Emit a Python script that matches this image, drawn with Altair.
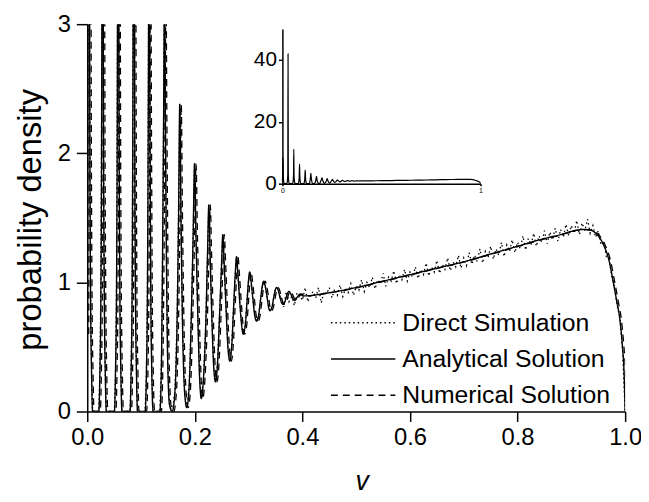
import altair as alt
import pandas as pd

# ---------------- data ----------------
series_names = ["Direct Simulation", "Analytical Solution", "Numerical Solution"]

# analytical solution: sample points (v, density)
ana_x = [
    0.0, 0.0012, 0.0028, 0.0044, 0.006, 0.008, 0.010,
    0.0215, 0.0235, 0.0255, 0.0272, 0.0285, 0.0298, 0.0315, 0.0335, 0.0355,
    0.0505, 0.0525, 0.0545, 0.0562, 0.0575, 0.0588, 0.0605, 0.0625, 0.0645,
    0.0795, 0.0815, 0.0835, 0.0852, 0.0865, 0.0878, 0.0895, 0.0915, 0.0935,
    0.1075, 0.1100, 0.1120, 0.1137, 0.1150, 0.1163, 0.1180, 0.1200, 0.1225,
    0.1350, 0.1380, 0.1400, 0.1420, 0.1436, 0.1452, 0.1472, 0.1495, 0.1530,
    0.158,
    0.163, 0.167, 0.1697, 0.172, 0.1743, 0.177, 0.181, 0.185,
    0.1895, 0.1935, 0.1968, 0.1995, 0.2022, 0.2055, 0.209, 0.212,
    0.216, 0.2205, 0.2235, 0.226, 0.2285, 0.2315, 0.235, 0.2385,
    0.242, 0.246, 0.2495, 0.252, 0.2545, 0.258, 0.2615, 0.265,
    0.2685, 0.272, 0.275, 0.2775, 0.280, 0.2835, 0.287, 0.290,
    0.2935, 0.297, 0.2995, 0.302, 0.3045, 0.308, 0.3115, 0.315,
    0.3185, 0.322, 0.325, 0.328, 0.331, 0.3345, 0.3375, 0.340,
    0.3435, 0.347, 0.3495, 0.352, 0.3545, 0.358, 0.361, 0.364,
    0.3675, 0.371, 0.375, 0.379, 0.383, 0.386,
    0.391, 0.396, 0.401,
    0.45, 0.50, 0.55, 0.60, 0.65, 0.70, 0.75, 0.80, 0.85, 0.88, 0.90, 0.92,
    0.935, 0.95, 0.96, 0.97, 0.978, 0.985, 0.99, 0.995, 0.998, 1.0,
]
ana_y = [
    0.6, 3.0, 8.5, 3.0, 1.0, 0.3, 0.0,
    0.0, 0.3, 1.0, 3.0, 42.0, 3.0, 1.0, 0.3, 0.0,
    0.0, 0.3, 1.0, 3.0, 11.2, 3.0, 1.0, 0.3, 0.0,
    0.0, 0.3, 1.0, 3.0, 6.3, 3.0, 1.0, 0.3, 0.0,
    0.0, 0.3, 1.0, 2.6, 4.4, 2.6, 1.0, 0.3, 0.0,
    0.0, 0.4, 1.2, 2.3, 3.3, 2.3, 1.2, 0.4, 0.05,
    0.0,
    0.15, 0.7, 1.5, 2.38, 1.5, 0.7, 0.15, 0.03,
    0.2, 0.75, 1.35, 1.92, 1.35, 0.75, 0.25, 0.10,
    0.25, 0.7, 1.2, 1.60, 1.2, 0.75, 0.35, 0.23,
    0.36, 0.75, 1.12, 1.37, 1.15, 0.8, 0.5, 0.39,
    0.5, 0.8, 1.05, 1.20, 1.07, 0.85, 0.67, 0.60,
    0.66, 0.85, 1.0, 1.08, 1.01, 0.87, 0.74, 0.70,
    0.74, 0.86, 0.96, 1.01, 0.97, 0.88, 0.80, 0.78,
    0.81, 0.89, 0.94, 0.96, 0.945, 0.89, 0.845, 0.83,
    0.85, 0.90, 0.93, 0.905, 0.87, 0.86,
    0.89, 0.91, 0.895,
    0.92, 0.96, 1.01, 1.06, 1.11, 1.16, 1.22, 1.28, 1.34, 1.37, 1.395, 1.41,
    1.405, 1.36, 1.29, 1.17, 1.0, 0.84, 0.72, 0.50, 0.30, 0.0,
]

# direct simulation: noisy histogram values beyond the oscillating region
sim_x = [
    0.360, 0.365, 0.370, 0.375, 0.380, 0.385, 0.390, 0.395, 0.400, 0.405,
    0.410, 0.415, 0.420, 0.425, 0.430, 0.435, 0.440, 0.445, 0.450, 0.455,
    0.460, 0.465, 0.470, 0.475, 0.480, 0.485, 0.490, 0.495, 0.500, 0.505,
    0.510, 0.515, 0.520, 0.525, 0.530, 0.535, 0.540, 0.545, 0.550, 0.555,
    0.560, 0.565, 0.570, 0.575, 0.580, 0.585, 0.590, 0.595, 0.600, 0.605,
    0.610, 0.615, 0.620, 0.625, 0.630, 0.635, 0.640, 0.645, 0.650, 0.655,
    0.660, 0.665, 0.670, 0.675, 0.680, 0.685, 0.690, 0.695, 0.700, 0.705,
    0.710, 0.715, 0.720, 0.725, 0.730, 0.735, 0.740, 0.745, 0.750, 0.755,
    0.760, 0.765, 0.770, 0.775, 0.780, 0.785, 0.790, 0.795, 0.800, 0.805,
    0.810, 0.815, 0.820, 0.825, 0.830, 0.835, 0.840, 0.845, 0.850, 0.855,
    0.860, 0.865, 0.870, 0.875, 0.880, 0.885, 0.890, 0.895, 0.900, 0.905,
    0.910, 0.915, 0.920, 0.925, 0.930, 0.935, 0.940, 0.945, 0.950, 0.955,
    0.960, 0.965, 0.970, 0.975, 0.980, 0.985, 0.990, 0.995, 1.000,
]
sim_y = [
    0.90, 0.81, 0.93, 0.85, 0.89, 0.82, 0.92, 0.90, 0.86, 0.96,
    0.85, 0.90, 0.93, 0.88, 0.96, 0.84, 0.93, 0.91, 0.96, 0.88,
    0.95, 0.90, 0.98, 0.89, 0.95, 0.92, 0.99, 0.90, 0.97, 0.94,
    1.02, 0.93, 1.00, 0.96, 1.04, 0.95, 1.02, 0.99, 1.07, 0.97,
    1.04, 1.01, 1.09, 0.99, 1.06, 1.02, 1.10, 1.01, 1.08, 1.04,
    1.12, 1.03, 1.10, 1.06, 1.15, 1.05, 1.12, 1.08, 1.17, 1.07,
    1.14, 1.10, 1.19, 1.09, 1.16, 1.12, 1.21, 1.11, 1.19, 1.13,
    1.23, 1.14, 1.21, 1.16, 1.26, 1.15, 1.24, 1.19, 1.28, 1.18,
    1.26, 1.21, 1.31, 1.20, 1.29, 1.24, 1.33, 1.23, 1.31, 1.26,
    1.36, 1.25, 1.34, 1.29, 1.38, 1.28, 1.36, 1.31, 1.40, 1.30,
    1.39, 1.33, 1.42, 1.32, 1.41, 1.35, 1.45, 1.36, 1.44, 1.38,
    1.48, 1.37, 1.46, 1.40, 1.49, 1.38, 1.44, 1.35, 1.40, 1.29,
    1.32, 1.20, 1.19, 1.05, 0.97, 0.82, 0.73, 0.49, 0.0,
]

x_ticks = [0.0, 0.2, 0.4, 0.6, 0.8, 1.0]
y_ticks = [0, 0.5, 1, 1.5, 2, 2.5, 3]
inset_x_ticks = [0, 1]
inset_y_ticks = [0, 20, 40]

# ---------------- tables ----------------
ana_df = pd.DataFrame({"v": ana_x, "p": ana_y, "series": series_names[1]})
num_df = pd.DataFrame({"v": ana_x, "p": ana_y, "series": series_names[2]})
low = [(x, y) for x, y in zip(ana_x, ana_y) if x < 0.36]
sim_df = pd.DataFrame({
    "v": [a for a, _ in low] + sim_x,
    "p": [b for _, b in low] + sim_y,
    "series": series_names[0],
})

FONT = "Liberation Sans"

dash = alt.StrokeDash(
    "series:N",
    scale=alt.Scale(domain=series_names, range=[[1.5, 3], [1, 0], [7, 5]]),
    legend=alt.Legend(
        title=None, orient="none", legendX=245, legendY=284,
        symbolType="stroke", symbolSize=4225, symbolStrokeWidth=1.5,
        symbolStrokeColor="black", labelFontSize=25, labelFont=FONT,
        labelColor="black", clipHeight=35, rowPadding=1.5, padding=0,
        labelOffset=6, labelLimit=400,
    ),
)

xenc = alt.X(
    "v:Q",
    scale=alt.Scale(domain=[0, 1], nice=False, zero=False),
    axis=alt.Axis(
        values=x_ticks, format=".1f", title="v", titleFontStyle="italic",
        titleFontSize=27, titleFontWeight="normal", titleFont=FONT,
        titleX=277, titleY=79, titleAlign="center", titleBaseline="alphabetic",
        labelFontSize=24, tickSize=10, labelPadding=4, labelFlush=False,
    ),
)
yenc = alt.Y(
    "p:Q",
    scale=alt.Scale(domain=[0, 3], nice=False),
    axis=alt.Axis(
        values=y_ticks, format="d", labelFlush=False,
        labelExpr="datum.value % 1 === 0 ? datum.label : ''",
        tickSize={"condition": {"test": "datum.value % 1 === 0", "value": 11}, "value": 7},
        title="probability density", titleFontSize=33, titleFontWeight="normal",
        titleFont=FONT, titleAngle=270, titleX=-57, titleY=197,
        titleAlign="center", titleBaseline="middle",
        labelFontSize=24, labelPadding=6,
    ),
)

sim = alt.Chart(sim_df).mark_line(
    clip=True, color="black", strokeWidth=1.3, interpolate="linear"
).encode(x=xenc, y=yenc, strokeDash=dash)
num = alt.Chart(num_df).mark_line(
    clip=True, color="black", strokeWidth=1.3, interpolate="monotone", xOffset=1.5
).encode(x=xenc, y=yenc, strokeDash=dash)
ana = alt.Chart(ana_df).mark_line(
    clip=True, color="black", strokeWidth=1.4, interpolate="monotone"
).encode(x=xenc, y=yenc, strokeDash=dash)

main = alt.layer(sim, num, ana)

inset = alt.Chart(ana_df).mark_line(
    color="black", strokeWidth=1.2, interpolate="monotone"
).encode(
    x=alt.X(
        "v:Q",
        scale=alt.Scale(domain=[0, 1], range=[197, 397], nice=False, zero=False),
        axis=alt.Axis(orient="bottom", offset=-230, values=inset_x_ticks, format="d",
                      labelFontSize=7, tickSize=2, labelPadding=1, title=None,
                      labelFlush=False, labelColor="black"),
    ),
    y=alt.Y(
        "p:Q",
        scale=alt.Scale(domain=[0, 50], range=[161, 5], nice=False),
        axis=alt.Axis(orient="left", offset=-197, values=inset_y_ticks,
                      labelFontSize=21, tickSize=4, labelPadding=2, title=None,
                      labelFlush=False),
    ),
)

chart = alt.layer(main, inset).resolve_scale(
    x="independent", y="independent"
).properties(
    width=543, height=391,
    autosize=alt.AutoSizeParams(type="none"),
    padding={"left": 80, "top": 14, "right": 16, "bottom": 86},
).configure_axis(
    grid=False, domainColor="black", tickColor="black", labelColor="black",
    titleColor="black", labelFont=FONT, domainWidth=1.5, tickWidth=1.5,
).configure_view(stroke=None)

chart.save("out.html", embed_options={"renderer": "svg", "actions": False})
